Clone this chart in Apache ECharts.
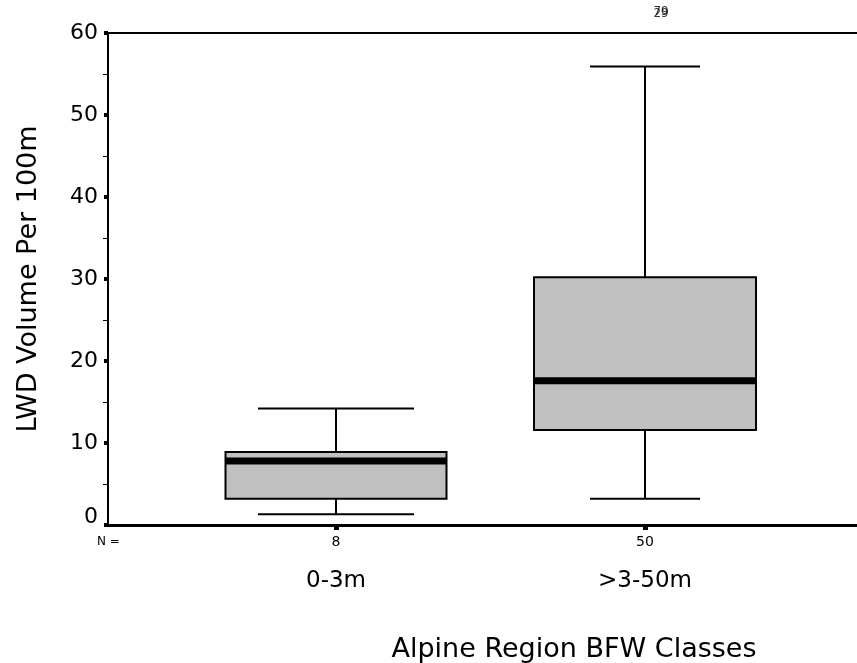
<!DOCTYPE html>
<html>
<head>
<meta charset="utf-8">
<script src="https://cdn.jsdelivr.net/npm/echarts@6/dist/echarts.min.js"></script>
<style>html,body{margin:0;padding:0;background:#fff}#c{width:857px;height:663px}</style>
</head>
<body>
<div id="c"></div>
<script>
// ---- data ----
const categories = ['0-3m', '>3-50m'];
const counts = ['8', '50'];
const positions = [1, 2];
const lowWhisker = [1.3, 3.2];
const q1 = [3.2, 11.6];
const median = [7.8, 17.6];
const q3 = [8.9, 30.2];
const highWhisker = [14.2, 55.9];
const outlierPos = [2, 2];
const outlierValues = [62.5, 62.5];
const outlierLabels = ['79', '29'];

// ---- styles ----
const boxWidths = [221, 222];
const capWidths = [156, 110];
const FONT = 'DejaVu Sans, Liberation Sans, sans-serif';
const X_MIN = 0.262, X_MAX = 2.686;

const boxData = positions.map((p, i) => [p, lowWhisker[i], q1[i], median[i], q3[i], highWhisker[i]]);

const chart = echarts.init(document.getElementById('c'), null, {renderer: 'canvas'});
chart.setOption({
  animation: false,
  backgroundColor: '#fff',
  textStyle: {fontFamily: FONT},
  grid: {left: 108, right: 0, top: 33, bottom: 138, show: false, containLabel: false},
  xAxis: [
    {
      type: 'value', min: X_MIN, max: X_MAX, position: 'bottom',
      axisLine: {show: true, onZero: false, lineStyle: {color: '#000', width: 3}},
      axisTick: {show: true, customValues: positions, length: 5, lineStyle: {color: '#000', width: 5}},
      axisLabel: {show: true, customValues: positions, formatter: (v) => counts[positions.indexOf(v)] || '', color: '#000', fontSize: 14, margin: 10, fontFamily: FONT},
      splitLine: {show: false}
    },
    {
      type: 'value', min: X_MIN, max: X_MAX, position: 'bottom',
      axisLine: {show: false},
      axisTick: {show: false},
      axisLabel: {show: true, customValues: positions, formatter: (v) => categories[positions.indexOf(v)] || '', color: '#000', fontSize: 23, margin: 45, fontFamily: FONT},
      splitLine: {show: false}
    },
    {
      type: 'value', min: X_MIN, max: X_MAX, position: 'top',
      axisLine: {show: true, onZero: false, lineStyle: {color: '#000', width: 2}},
      axisTick: {show: false},
      axisLabel: {show: false},
      splitLine: {show: false}
    }
  ],
  yAxis: {
    type: 'value', min: 0, max: 60, interval: 10,
    axisLine: {show: true, lineStyle: {color: '#000', width: 2}},
    axisTick: {show: true, length: 4, lineStyle: {color: '#000', width: 4}},
    minorTick: {show: true, splitNumber: 2, length: 5, lineStyle: {color: '#000', width: 1}},
    splitLine: {show: false},
    axisLabel: {
      color: '#000', fontSize: 22, margin: 10, fontFamily: FONT,
      formatter: (v) => v === 0 ? '{z|0}' : String(v),
      rich: {z: {fontSize: 22, fontFamily: FONT, color: '#000', padding: [0, 0, 16, 0]}}
    },
    name: 'LWD Volume Per 100m', nameLocation: 'middle', nameGap: 66,
    nameTextStyle: {color: '#000', fontSize: 27, fontFamily: FONT}
  },
  graphic: [
    {type: 'text', left: 97, top: 536, style: {text: 'N =', fontSize: 12, fill: '#000', fontFamily: FONT}},
    {type: 'text', x: 574, y: 650, style: {text: 'Alpine Region BFW Classes', fontSize: 27, fill: '#000', fontFamily: FONT, align: 'center', verticalAlign: 'middle'}}
  ],
  series: [
    {
      type: 'custom',
      xAxisIndex: 0,
      data: boxData,
      encode: {x: 0, y: [1, 2, 3, 4, 5]},
      renderItem: function (params, api) {
        const i = params.dataIndex;
        const x = api.value(0);
        const pLow = api.coord([x, api.value(1)]);
        const pQ1 = api.coord([x, api.value(2)]);
        const pMed = api.coord([x, api.value(3)]);
        const pQ3 = api.coord([x, api.value(4)]);
        const pHigh = api.coord([x, api.value(5)]);
        const cx = Math.round(pLow[0]);
        const hw = boxWidths[i] / 2;
        const cw = capWidths[i] / 2;
        const wl = {stroke: '#000', lineWidth: 2};
        return {
          type: 'group',
          children: [
            {type: 'line', shape: {x1: cx, y1: pLow[1], x2: cx, y2: pQ1[1]}, style: wl},
            {type: 'line', shape: {x1: cx, y1: pQ3[1], x2: cx, y2: pHigh[1]}, style: wl},
            {type: 'line', shape: {x1: cx - cw, y1: pLow[1], x2: cx + cw, y2: pLow[1]}, style: wl},
            {type: 'line', shape: {x1: cx - cw, y1: pHigh[1], x2: cx + cw, y2: pHigh[1]}, style: wl},
            {type: 'rect', shape: {x: cx - hw, y: pQ3[1], width: hw * 2, height: pQ1[1] - pQ3[1]}, style: {fill: '#c0c0c0', stroke: '#000', lineWidth: 2}},
            {type: 'line', shape: {x1: cx - hw, y1: pMed[1], x2: cx + hw, y2: pMed[1]}, style: {stroke: '#000', lineWidth: 7}}
          ]
        };
      },
      z: 3
    },
    {
      type: 'scatter',
      xAxisIndex: 0,
      clip: false,
      symbolSize: 0,
      data: outlierPos.map((p, i) => ({value: [p, outlierValues[i]], label: {offset: i === 0 ? [16, -1] : [16, 1]}})),
      label: {
        show: true, position: 'inside',
        formatter: (p) => outlierLabels[p.dataIndex],
        fontSize: 12, color: '#000', fontFamily: FONT
      },
      z: 5
    }
  ]
});
</script>
</body>
</html>
